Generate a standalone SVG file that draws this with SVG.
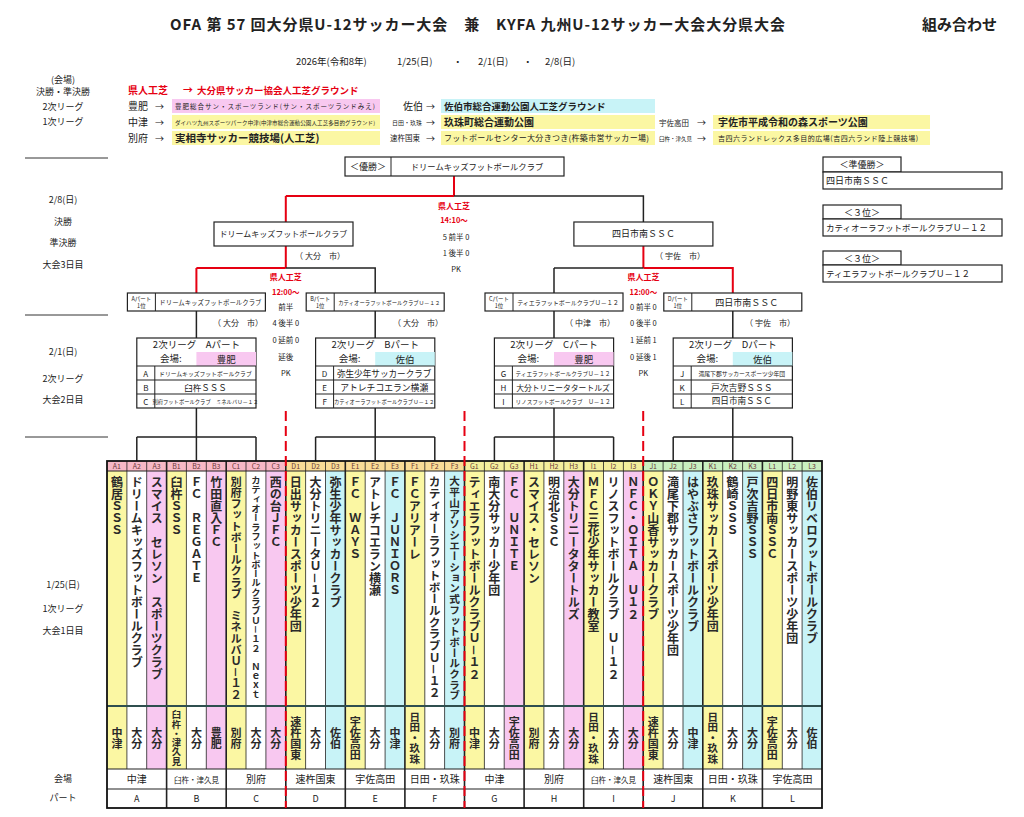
<svg xmlns="http://www.w3.org/2000/svg" width="1024" height="817" viewBox="0 0 1024 817">
<style>
text{font-family:"Noto Sans CJK JP","Noto Sans",sans-serif;fill:#222}
.b{font-weight:bold}
.r{fill:#e60012}
.m{text-anchor:middle}
.v{writing-mode:vertical-rl}
.bx{fill:#fff;stroke:#222;stroke-width:1.2}
.cy{fill:#fbf7a3}.cp{fill:#f8c8f0}.cc{fill:#c8f3f7}
.ln{stroke:#222;stroke-width:1.5;fill:none}
.lr{stroke:#e60012;stroke-width:2;fill:none}
.dr{stroke:#e60012;stroke-width:2;stroke-dasharray:10 5;fill:none}
.nm{font-size:12px}
.ct{font-size:11px}
.g text{font-weight:bold;fill:#2a2a2a}
.hl{font-size:7px;fill:#6a3a3a}
.col{stroke:#222;stroke-width:0.8}
.prt{stroke:#222;stroke-width:1.6}
</style>
<rect x="0" y="0" width="1024" height="817" fill="#fff"/>

<g id="header">
<text x="170" y="30" font-size="15" textLength="615" class="b" fill="#111">OFA 第 57 回大分県U-12サッカー大会　兼　KYFA 九州U-12サッカー大会大分県大会</text>
<text x="922" y="30" font-size="15" class="b" fill="#111">組み合わせ</text>
<text x="296" y="65" font-size="9.5">2026年(令和8年)</text>
<text x="397" y="65" font-size="9.5">1/25(日)</text>
<text x="453" y="65" font-size="9.5">・</text>
<text x="478" y="65" font-size="9.5">2/1(日)</text>
<text x="523" y="65" font-size="9.5">・</text>
<text x="545" y="65" font-size="9.5">2/8(日)</text>
</g>

<g id="left-labels" font-size="9">
<text x="63" y="83" class="m" font-size="9">(会場)</text>
<text x="63" y="95" class="m" font-size="9">決勝・準決勝</text>
<text x="63" y="110" class="m" font-size="9">2次リーグ</text>
<text x="63" y="125" class="m" font-size="9">1次リーグ</text>
<text x="63" y="203" class="m" font-size="9">2/8(日)</text>
<text x="63" y="225" class="m" font-size="9">決勝</text>
<text x="63" y="246" class="m" font-size="9">準決勝</text>
<text x="63" y="268" class="m" font-size="9">大会3日目</text>
<text x="63" y="355" class="m" font-size="9">2/1(日)</text>
<text x="63" y="382" class="m" font-size="9">2次リーグ</text>
<text x="63" y="403" class="m" font-size="9">大会2日目</text>
<text x="63" y="588" class="m" font-size="9">1/25(日)</text>
<text x="63" y="612" class="m" font-size="9">1次リーグ</text>
<text x="63" y="634" class="m" font-size="9">大会1日目</text>
<text x="63" y="782" class="m" font-size="9">会場</text>
<text x="63" y="801" class="m" font-size="9">パート</text>
<path d="M25,158H108M25,315H108M25,437H108" stroke="#333" stroke-width="1"/>
</g>

<g id="venues">
<text x="128" y="94" font-size="10" class="b r">県人工芝</text>
<text x="183" y="94" font-size="10" class="b r">→</text>
<text x="197" y="94" font-size="9.5" class="b r">大分県サッカー協会人工芝グラウンド</text>
<rect x="172" y="99" width="208" height="14" class="cp"/>
<rect x="441" y="99" width="214" height="14" class="cc"/>
<rect x="172" y="115" width="208" height="14" class="cy"/>
<rect x="441" y="115" width="214" height="14" class="cy"/>
<rect x="713" y="115" width="217" height="14" class="cy"/>
<rect x="172" y="131" width="208" height="14" class="cy"/>
<rect x="441" y="131" width="214" height="14" class="cy"/>
<rect x="713" y="131" width="217" height="14" class="cy"/>
<text x="128" y="110" font-size="10">豊肥</text><text x="155" y="110" font-size="9">→</text>
<text x="175" y="109" font-size="6.5" textLength="200" fill="#552255">豊肥総合サン・スポーツランド(サン・スポーツランドみえ)</text>
<text x="403" y="110" font-size="10">佐伯</text><text x="426" y="110" font-size="9">→</text>
<text x="444" y="110" font-size="9.5" class="b" fill="#114455">佐伯市総合運動公園人工芝グラウンド</text>
<text x="128" y="126" font-size="10">中津</text><text x="155" y="126" font-size="9">→</text>
<text x="175" y="125" font-size="5.5" textLength="200" fill="#555500">ダイハツ九州スポーツパーク中津(中津市総合運動公園人工芝多目的グラウンド)</text>
<text x="392" y="125" font-size="6">日田・玖珠</text><text x="426" y="126" font-size="9">→</text>
<text x="444" y="126" font-size="10" class="b" fill="#444400">玖珠町総合運動公園</text>
<text x="659" y="126" font-size="7.5">宇佐高田</text><text x="697" y="126" font-size="9">→</text>
<text x="718" y="126" font-size="10" class="b" fill="#444400">宇佐市平成令和の森スポーツ公園</text>
<text x="128" y="142" font-size="10">別府</text><text x="155" y="142" font-size="9">→</text>
<text x="175" y="142" font-size="10.5" class="b" fill="#333300">実相寺サッカー競技場(人工芝)</text>
<text x="390" y="141" font-size="7.5">速杵国東</text><text x="426" y="142" font-size="9">→</text>
<text x="444" y="141" font-size="8" textLength="205" fill="#444400">フットボールセンター大分きつき(杵築市営サッカー場)</text>
<text x="659" y="141" font-size="5.5">臼杵・津久見</text><text x="697" y="142" font-size="9">→</text>
<text x="718" y="141" font-size="7" textLength="200" fill="#444400">吉四六ランドレックス多目的広場(吉四六ランド陸上競技場)</text>
</g>

<g id="placings" font-size="9">
<rect x="823" y="157" width="78" height="15" class="bx"/>
<text x="862" y="168" class="m" font-size="9">＜準優勝＞</text>
<rect x="823" y="172" width="179" height="17" class="bx"/>
<text x="826" y="184" font-size="9">四日市南ＳＳＣ</text>
<rect x="823" y="205" width="78" height="14" class="bx"/>
<text x="862" y="216" class="m" font-size="9">＜３位＞</text>
<rect x="823" y="219" width="179" height="17" class="bx"/>
<text x="826" y="231" font-size="8.5">カティオーラフットボールクラブＵ－１２</text>
<rect x="823" y="251" width="78" height="14" class="bx"/>
<text x="862" y="262" class="m" font-size="9">＜３位＞</text>
<rect x="823" y="265" width="179" height="17" class="bx"/>
<text x="826" y="277" font-size="8.5">ティエラフットボールクラブＵ－１２</text>
</g>

<g id="connectors">
<path class="lr" d="M454,176V196M285.8,196H454M285.8,196V222"/>
<path class="ln" d="M454,196H643.4V222"/>
<path class="lr" d="M285.8,246V268M196.4,268H285.8M196.4,268V293"/>
<path class="ln" d="M285.8,268H375.2V293"/>
<path class="lr" d="M643.4,246V268M643.4,268H732.8V293"/>
<path class="ln" d="M554,268H643.4"/>
<path class="ln" d="M554,268V293"/>
<path class="ln" d="M196.4,311V338M375.2,311V338M554,311V338M732.8,311V338"/>
<path class="ln" d="M196.4,408V437M136.8,437H256M136.8,437V461M196.4,437V461M256,437V461"/>
<path class="ln" d="M375.2,408V437M315.6,437H434.8M315.6,437V461M375.2,437V461M434.8,437V461"/>
<path class="ln" d="M554,408V437M494.4,437H613.6M494.4,437V461M554,437V461M613.6,437V461"/>
<path class="ln" d="M732.8,408V437M673.2,437H792.4M673.2,437V461M732.8,437V461M792.4,437V461"/>
</g>

<g id="final">
<rect x="345" y="157" width="219" height="19" class="bx"/>
<line x1="391" y1="157" x2="391" y2="176" stroke="#222" stroke-width="1"/>
<text x="368" y="170" class="m" font-size="9">＜優勝＞</text>
<text x="477" y="170" class="m" font-size="8.3">ドリームキッズフットボールクラブ</text>
<text x="454" y="209" class="m b r" font-size="8">県人工芝</text>
<text x="454" y="223" class="m b r" font-size="7.5">14:10～</text>
<text x="456" y="240" class="m" font-size="7.5">5 前半 0</text>
<text x="456" y="256" class="m" font-size="7.5">1 後半 0</text>
<text x="456" y="272" class="m" font-size="7.5">PK</text>
</g>

<g id="semi-left">
<rect x="214" y="222" width="139" height="24" class="bx"/>
<text x="283.5" y="237" class="m" font-size="8">ドリームキッズフットボールクラブ</text>
<text x="320" y="259" class="m" font-size="8">（ 大分　市）</text>
<text x="285.8" y="280" class="m b r" font-size="8">県人工芝</text>
<text x="285.8" y="295" class="m b r" font-size="7.5">12:00～</text>
<text x="285.8" y="310" class="m" font-size="7.5">前半</text>
<text x="285.8" y="326" class="m" font-size="7.5">4 後半 0</text>
<text x="285.8" y="343" class="m" font-size="7.5">0 延前 0</text>
<text x="285.8" y="360" class="m" font-size="7.5">延後</text>
<text x="285.8" y="376" class="m" font-size="7.5">PK</text>
</g>

<g id="semi-right">
<rect x="573.9" y="222" width="139" height="24" class="bx"/>
<text x="643.4" y="237" class="m" font-size="9">四日市南ＳＳＣ</text>
<text x="680" y="259" class="m" font-size="8">（ 宇佐　市）</text>
<text x="643.4" y="280" class="m b r" font-size="8">県人工芝</text>
<text x="643.4" y="295" class="m b r" font-size="7.5">12:00～</text>
<text x="643.4" y="310" class="m" font-size="7.5">0 前半 0</text>
<text x="643.4" y="326" class="m" font-size="7.5">0 後半 0</text>
<text x="643.4" y="343" class="m" font-size="7.5">1 延前 1</text>
<text x="643.4" y="360" class="m" font-size="7.5">0 延後 1</text>
<text x="643.4" y="376" class="m" font-size="7.5">PK</text>
</g>

<g id="winner-A">
<rect x="127.4" y="293" width="138" height="18" class="bx"/>
<line x1="155.4" y1="293" x2="155.4" y2="311" stroke="#222" stroke-width="1"/>
<text x="141.4" y="301" class="m" font-size="5.5">Aパート</text>
<text x="141.4" y="308" class="m" font-size="5.5">1位</text>
<text x="210.4" y="304.5" class="m" font-size="6.4">ドリームキッズフットボールクラブ</text>
<text x="238" y="326" class="m" font-size="8">（ 大分　市）</text>
</g>
<g id="winner-B">
<rect x="306.2" y="293" width="138" height="18" class="bx"/>
<line x1="334.2" y1="293" x2="334.2" y2="311" stroke="#222" stroke-width="1"/>
<text x="320.2" y="301" class="m" font-size="5.5">Bパート</text>
<text x="320.2" y="308" class="m" font-size="5.5">1位</text>
<text x="389.2" y="304.5" class="m" font-size="5.4">カティオーラフットボールクラブＵ－１２</text>
<text x="418" y="326" class="m" font-size="8">（ 大分　市）</text>
</g>
<g id="winner-C">
<rect x="485" y="293" width="138" height="18" class="bx"/>
<line x1="513" y1="293" x2="513" y2="311" stroke="#222" stroke-width="1"/>
<text x="499" y="301" class="m" font-size="5.5">Cパート</text>
<text x="499" y="308" class="m" font-size="5.5">1位</text>
<text x="568" y="304.5" class="m" font-size="6">ティエラフットボールクラブＵ－１２</text>
<text x="590" y="326" class="m" font-size="8">（ 中津　市）</text>
</g>
<g id="winner-D">
<rect x="663.8" y="293" width="138" height="18" class="bx"/>
<line x1="691.8" y1="293" x2="691.8" y2="311" stroke="#222" stroke-width="1"/>
<text x="677.8" y="301" class="m" font-size="5.5">Dパート</text>
<text x="677.8" y="308" class="m" font-size="5.5">1位</text>
<text x="746.8" y="305.5" class="m" font-size="9">四日市南ＳＳＣ</text>
<text x="770" y="326" class="m" font-size="8">（ 宇佐　市）</text>
</g>

<g id="league-A">
<rect x="136.8" y="338" width="119.2" height="70" class="bx"/>
<rect x="196.4" y="352" width="59.6" height="14" class="cp"/>
<path d="M136.8,366H256M136.8,380H256M136.8,394H256M154.8,366V408" stroke="#222" stroke-width="1"/>
<text x="196.4" y="348" class="m" font-size="9.5">2次リーグ　Aパート</text>
<text x="160" y="362" font-size="9.5">会場:</text>
<text x="226.2" y="362.5" class="m" font-size="9.5">豊肥</text>
<text x="145.8" y="376.5" class="m" font-size="8">A</text>
<text x="145.8" y="390.5" class="m" font-size="8">B</text>
<text x="145.8" y="404.5" class="m" font-size="8">C</text>
<text x="205.4" y="375.5" class="m" font-size="5.8">ドリームキッズフットボールクラブ</text>
<text x="205.4" y="390.5" class="m" font-size="8.5">臼杵ＳＳＳ</text>
<text x="205.4" y="403.5" class="m" font-size="5.3">別府フットボールクラブ　ミネルバＵ－１２</text>
</g>
<g id="league-B">
<rect x="315.6" y="338" width="119.2" height="70" class="bx"/>
<rect x="375.2" y="352" width="59.6" height="14" class="cc"/>
<path d="M315.6,366H434.8M315.6,380H434.8M315.6,394H434.8M333.6,366V408" stroke="#222" stroke-width="1"/>
<text x="375.2" y="348" class="m" font-size="9.5">2次リーグ　Bパート</text>
<text x="338.8" y="362" font-size="9.5">会場:</text>
<text x="405" y="362.5" class="m" font-size="9.5">佐伯</text>
<text x="324.6" y="376.5" class="m" font-size="8">D</text>
<text x="324.6" y="390.5" class="m" font-size="8">E</text>
<text x="324.6" y="404.5" class="m" font-size="8">F</text>
<text x="384.2" y="376.5" class="m" font-size="8.6">弥生少年サッカークラブ</text>
<text x="384.2" y="390.5" class="m" font-size="8.8">アトレチコエラン横瀬</text>
<text x="384.2" y="403.5" class="m" font-size="5.3">カティオーラフットボールクラブＵ－１２</text>
</g>
<g id="league-C">
<rect x="494.4" y="338" width="119.2" height="70" class="bx"/>
<rect x="554" y="352" width="59.6" height="14" class="cp"/>
<path d="M494.4,366H613.6M494.4,380H613.6M494.4,394H613.6M512.4,366V408" stroke="#222" stroke-width="1"/>
<text x="554" y="348" class="m" font-size="9.5">2次リーグ　Cパート</text>
<text x="517.6" y="362" font-size="9.5">会場:</text>
<text x="583.8" y="362.5" class="m" font-size="9.5">豊肥</text>
<text x="503.4" y="376.5" class="m" font-size="8">G</text>
<text x="503.4" y="390.5" class="m" font-size="8">H</text>
<text x="503.4" y="404.5" class="m" font-size="8">I</text>
<text x="563" y="375.5" class="m" font-size="5.6">ティエラフットボールクラブＵ－１２</text>
<text x="563" y="390.5" class="m" font-size="7.8">大分トリニータタートルズ</text>
<text x="563" y="403.5" class="m" font-size="5.6">リノスフットボールクラブ　Ｕ－１２</text>
</g>
<g id="league-D">
<rect x="673.2" y="338" width="119.2" height="70" class="bx"/>
<rect x="732.8" y="352" width="59.6" height="14" class="cc"/>
<path d="M673.2,366H792.4M673.2,380H792.4M673.2,394H792.4M691.2,366V408" stroke="#222" stroke-width="1"/>
<text x="732.8" y="348" class="m" font-size="9.5">2次リーグ　Dパート</text>
<text x="696.4" y="362" font-size="9.5">会場:</text>
<text x="762.6" y="362.5" class="m" font-size="9.5">佐伯</text>
<text x="682.2" y="376.5" class="m" font-size="8">J</text>
<text x="682.2" y="390.5" class="m" font-size="8">K</text>
<text x="682.2" y="404.5" class="m" font-size="8">L</text>
<text x="741.8" y="375.5" class="m" font-size="5.8">滝尾下郡サッカースポーツ少年団</text>
<text x="741.8" y="390.5" class="m" font-size="8.8">戸次吉野ＳＳＳ</text>
<text x="741.8" y="404" class="m" font-size="8.6">四日市南ＳＳＣ</text>
</g>

<g id="grid">
<rect x="107" y="461" width="178.8" height="10" fill="#f7b8c6"/>
<rect x="285.8" y="461" width="178.7" height="10" fill="#f9dc96"/>
<rect x="464.5" y="461" width="178.7" height="10" fill="#f4ee9c"/>
<rect x="643.2" y="461" width="178.8" height="10" fill="#c9efc0"/>
<g id="col-fills">
<rect x="107" y="471" width="19.9" height="298" class="cy"/>
<rect x="146.7" y="471" width="19.9" height="298" class="cp"/>
<rect x="166.6" y="471" width="19.9" height="298" class="cy"/>
<rect x="206.3" y="471" width="19.9" height="298" class="cp"/>
<rect x="226.2" y="471" width="19.9" height="298" class="cy"/>
<rect x="265.9" y="471" width="19.9" height="298" class="cp"/>
<rect x="285.8" y="471" width="19.9" height="298" class="cy"/>
<rect x="325.5" y="471" width="19.9" height="298" class="cc"/>
<rect x="345.3" y="471" width="19.9" height="298" class="cy"/>
<rect x="385.1" y="471" width="19.9" height="298" class="cc"/>
<rect x="404.9" y="471" width="19.9" height="298" class="cy"/>
<rect x="444.6" y="471" width="19.9" height="298" class="cc"/>
<rect x="464.5" y="471" width="19.9" height="298" class="cy"/>
<rect x="504.2" y="471" width="19.9" height="298" class="cp"/>
<rect x="524.1" y="471" width="19.9" height="298" class="cy"/>
<rect x="563.8" y="471" width="19.9" height="298" class="cp"/>
<rect x="583.7" y="471" width="19.9" height="298" class="cy"/>
<rect x="623.4" y="471" width="19.9" height="298" class="cp"/>
<rect x="643.2" y="471" width="19.9" height="298" class="cy"/>
<rect x="683" y="471" width="19.9" height="298" class="cc"/>
<rect x="702.8" y="471" width="19.9" height="298" class="cy"/>
<rect x="742.6" y="471" width="19.9" height="298" class="cc"/>
<rect x="762.4" y="471" width="19.9" height="298" class="cy"/>
<rect x="802.1" y="471" width="19.9" height="298" class="cc"/>
</g>
<g id="col-heads" class="hl">
<text x="116.9" y="469" class="m hl">A1</text><text x="136.8" y="469" class="m hl">A2</text><text x="156.7" y="469" class="m hl">A3</text>
<text x="176.5" y="469" class="m hl">B1</text><text x="196.4" y="469" class="m hl">B2</text><text x="216.2" y="469" class="m hl">B3</text>
<text x="236.1" y="469" class="m hl">C1</text><text x="256" y="469" class="m hl">C2</text><text x="275.8" y="469" class="m hl">C3</text>
<text x="295.7" y="469" class="m hl">D1</text><text x="315.5" y="469" class="m hl">D2</text><text x="335.4" y="469" class="m hl">D3</text>
<text x="355.3" y="469" class="m hl">E1</text><text x="375.1" y="469" class="m hl">E2</text><text x="395" y="469" class="m hl">E3</text>
<text x="414.8" y="469" class="m hl">F1</text><text x="434.7" y="469" class="m hl">F2</text><text x="454.6" y="469" class="m hl">F3</text>
<text x="474.4" y="469" class="m hl">G1</text><text x="494.3" y="469" class="m hl">G2</text><text x="514.2" y="469" class="m hl">G3</text>
<text x="534" y="469" class="m hl">H1</text><text x="553.9" y="469" class="m hl">H2</text><text x="573.7" y="469" class="m hl">H3</text>
<text x="593.6" y="469" class="m hl">I1</text><text x="613.5" y="469" class="m hl">I2</text><text x="633.3" y="469" class="m hl">I3</text>
<text x="653.2" y="469" class="m hl">J1</text><text x="673" y="469" class="m hl">J2</text><text x="692.9" y="469" class="m hl">J3</text>
<text x="712.8" y="469" class="m hl">K1</text><text x="732.6" y="469" class="m hl">K2</text><text x="752.5" y="469" class="m hl">K3</text>
<text x="772.3" y="469" class="m hl">L1</text><text x="792.2" y="469" class="m hl">L2</text><text x="812.1" y="469" class="m hl">L3</text>
</g>
<g id="names" class="g">
<text x="116.9" y="476" class="v nm">鶴居ＳＳＳ</text>
<text x="136.8" y="476" class="v nm">ドリームキッズフットボールクラブ</text>
<text x="156.7" y="476" class="v nm">スマイス　セレソン　スポーツクラブ</text>
<text x="176.5" y="476" class="v nm">臼杵ＳＳＳ</text>
<text x="196.4" y="476" class="v nm">ＦＣ　ＲＥＧＡＴＥ</text>
<text x="216.2" y="476" class="v nm">竹田直入ＦＣ</text>
<text x="236.1" y="476" class="v" font-size="11.2">別府フットボールクラブ　ミネルバＵ－１２</text>
<text x="256" y="476" class="v" font-size="9.3">カティオーラフットボールクラブＵ－１２　Ｎｅｘｔ</text>
<text x="275.8" y="476" class="v nm">西の台ＪＦＣ</text>
<text x="295.7" y="476" class="v nm">日出サッカースポーツ少年団</text>
<text x="315.5" y="476" class="v nm">大分トリニータＵ－１２</text>
<text x="335.4" y="476" class="v nm">弥生少年サッカークラブ</text>
<text x="355.3" y="476" class="v nm">ＦＣ　ＷＡＹＳ</text>
<text x="375.1" y="476" class="v nm">アトレチコエラン横瀬</text>
<text x="395" y="476" class="v nm">ＦＣ　ＪＵＮＩＯＲＳ</text>
<text x="414.8" y="476" class="v nm">ＦＣアリアーレ</text>
<text x="434.7" y="476" class="v" font-size="11.7">カティオーラフットボールクラブＵ－１２</text>
<text x="454.6" y="476" class="v" font-size="10.7">大平山アソシエーション式フットボールクラブ</text>
<text x="474.4" y="476" class="v nm">ティエラフットボールクラブＵ－１２</text>
<text x="494.3" y="476" class="v nm">南大分サッカー少年団</text>
<text x="514.2" y="476" class="v nm">ＦＣ　ＵＮＩＴＥ</text>
<text x="534" y="476" class="v nm">スマイス・セレソン</text>
<text x="553.9" y="476" class="v nm">明治北ＳＳＣ</text>
<text x="573.7" y="476" class="v nm">大分トリニータタートルズ</text>
<text x="593.6" y="476" class="v nm">ＭＦＣ三花少年サッカー教室</text>
<text x="613.5" y="476" class="v nm">リノスフットボールクラブ　Ｕ－１２</text>
<text x="633.3" y="476" class="v nm">ＮＦＣ・ＯＩＴＡ　Ｕ１２</text>
<text x="653.2" y="476" class="v nm">ＯＫＹ山香サッカークラブ</text>
<text x="673" y="476" class="v nm">滝尾下郡サッカースポーツ少年団</text>
<text x="692.9" y="476" class="v nm">はやぶさフットボールクラブ</text>
<text x="712.8" y="476" class="v nm">玖珠サッカースポーツ少年団</text>
<text x="732.6" y="476" class="v nm">鶴崎ＳＳＳ</text>
<text x="752.5" y="476" class="v nm">戸次吉野ＳＳＳ</text>
<text x="772.3" y="476" class="v nm">四日市南ＳＳＣ</text>
<text x="792.2" y="476" class="v nm">明野東サッカースポーツ少年団</text>
<text x="812.1" y="476" class="v nm">佐伯リベロフットボールクラブ</text>
</g>
<g id="cities" class="g">
<text x="116.9" y="738" class="v m ct">中津</text>
<text x="136.8" y="738" class="v m ct">大分</text>
<text x="156.7" y="738" class="v m ct">大分</text>
<text x="176.5" y="738" class="v m" font-size="9.3">臼杵・津久見</text>
<text x="196.4" y="738" class="v m ct">大分</text>
<text x="216.2" y="738" class="v m ct">豊肥</text>
<text x="236.1" y="738" class="v m ct">別府</text>
<text x="256" y="738" class="v m ct">大分</text>
<text x="275.8" y="738" class="v m ct">大分</text>
<text x="295.7" y="738" class="v m ct">速杵国東</text>
<text x="315.5" y="738" class="v m ct">大分</text>
<text x="335.4" y="738" class="v m ct">佐伯</text>
<text x="355.3" y="738" class="v m ct">宇佐高田</text>
<text x="375.1" y="738" class="v m ct">大分</text>
<text x="395" y="738" class="v m ct">中津</text>
<text x="414.8" y="738" class="v m" font-size="10.5">日田・玖珠</text>
<text x="434.7" y="738" class="v m ct">大分</text>
<text x="454.6" y="738" class="v m ct">別府</text>
<text x="474.4" y="738" class="v m ct">中津</text>
<text x="494.3" y="738" class="v m ct">大分</text>
<text x="514.2" y="738" class="v m ct">宇佐高田</text>
<text x="534" y="738" class="v m ct">別府</text>
<text x="553.9" y="738" class="v m ct">大分</text>
<text x="573.7" y="738" class="v m ct">大分</text>
<text x="593.6" y="738" class="v m" font-size="10.5">日田・玖珠</text>
<text x="613.5" y="738" class="v m ct">大分</text>
<text x="633.3" y="738" class="v m ct">大分</text>
<text x="653.2" y="738" class="v m ct">速杵国東</text>
<text x="673" y="738" class="v m ct">大分</text>
<text x="692.9" y="738" class="v m ct">中津</text>
<text x="712.8" y="738" class="v m" font-size="10.5">日田・玖珠</text>
<text x="732.6" y="738" class="v m ct">大分</text>
<text x="752.5" y="738" class="v m ct">大分</text>
<text x="772.3" y="738" class="v m ct">宇佐高田</text>
<text x="792.2" y="738" class="v m ct">大分</text>
<text x="812.1" y="738" class="v m ct">佐伯</text>
</g>
<g id="grid-lines">
<path class="col" d="M126.9,461V769M146.7,461V769M186.4,461V769M206.3,461V769M246,461V769M265.9,461V769M305.6,461V769M325.5,461V769M365.2,461V769M385.1,461V769M424.8,461V769M444.6,461V769M484.4,461V769M504.2,461V769M543.9,461V769M563.8,461V769M603.5,461V769M623.4,461V769M663.1,461V769M683,461V769M722.7,461V769M742.6,461V769M782.3,461V769M802.1,461V769"/>
<path class="prt" d="M166.6,461V808M226.2,461V808M285.8,461V808M345.3,461V808M404.9,461V808M464.5,461V808M524.1,461V808M583.7,461V808M643.2,461V808M702.8,461V808M762.4,461V808"/>
<path d="M107,471H822" stroke="#222" stroke-width="1"/>
<path d="M107,706H822" stroke="#2f4f4f" stroke-width="2"/>
<path d="M107,769H822M107,789H822" stroke="#222" stroke-width="1.2"/>
<rect x="107" y="461" width="715" height="347" fill="none" stroke="#111" stroke-width="1.8"/>
</g>
<g id="venue-row" font-size="10">
<text x="136.8" y="783" class="m" font-size="10">中津</text>
<text x="196.4" y="783" class="m" font-size="7.5">臼杵・津久見</text>
<text x="256" y="783" class="m" font-size="10">別府</text>
<text x="315.6" y="783" class="m" font-size="10">速杵国東</text>
<text x="375.2" y="783" class="m" font-size="10">宇佐高田</text>
<text x="434.8" y="783" class="m" font-size="10">日田・玖珠</text>
<text x="494.4" y="783" class="m" font-size="10">中津</text>
<text x="554" y="783" class="m" font-size="10">別府</text>
<text x="613.6" y="783" class="m" font-size="7.5">臼杵・津久見</text>
<text x="673.2" y="783" class="m" font-size="10">速杵国東</text>
<text x="732.8" y="783" class="m" font-size="10">日田・玖珠</text>
<text x="792.4" y="783" class="m" font-size="10">宇佐高田</text>
</g>
<g id="part-row" font-size="9">
<text x="136.8" y="802" class="m" font-size="9">A</text>
<text x="196.4" y="802" class="m" font-size="9">B</text>
<text x="256" y="802" class="m" font-size="9">C</text>
<text x="315.6" y="802" class="m" font-size="9">D</text>
<text x="375.2" y="802" class="m" font-size="9">E</text>
<text x="434.8" y="802" class="m" font-size="9">F</text>
<text x="494.4" y="802" class="m" font-size="9">G</text>
<text x="554" y="802" class="m" font-size="9">H</text>
<text x="613.6" y="802" class="m" font-size="9">I</text>
<text x="673.2" y="802" class="m" font-size="9">J</text>
<text x="732.8" y="802" class="m" font-size="9">K</text>
<text x="792.4" y="802" class="m" font-size="9">L</text>
</g>
</g>
<g id="red-dashes">
<path class="dr" d="M285.8,411V808M464.5,411V808M643.2,411V808"/>
</g>
</svg>
